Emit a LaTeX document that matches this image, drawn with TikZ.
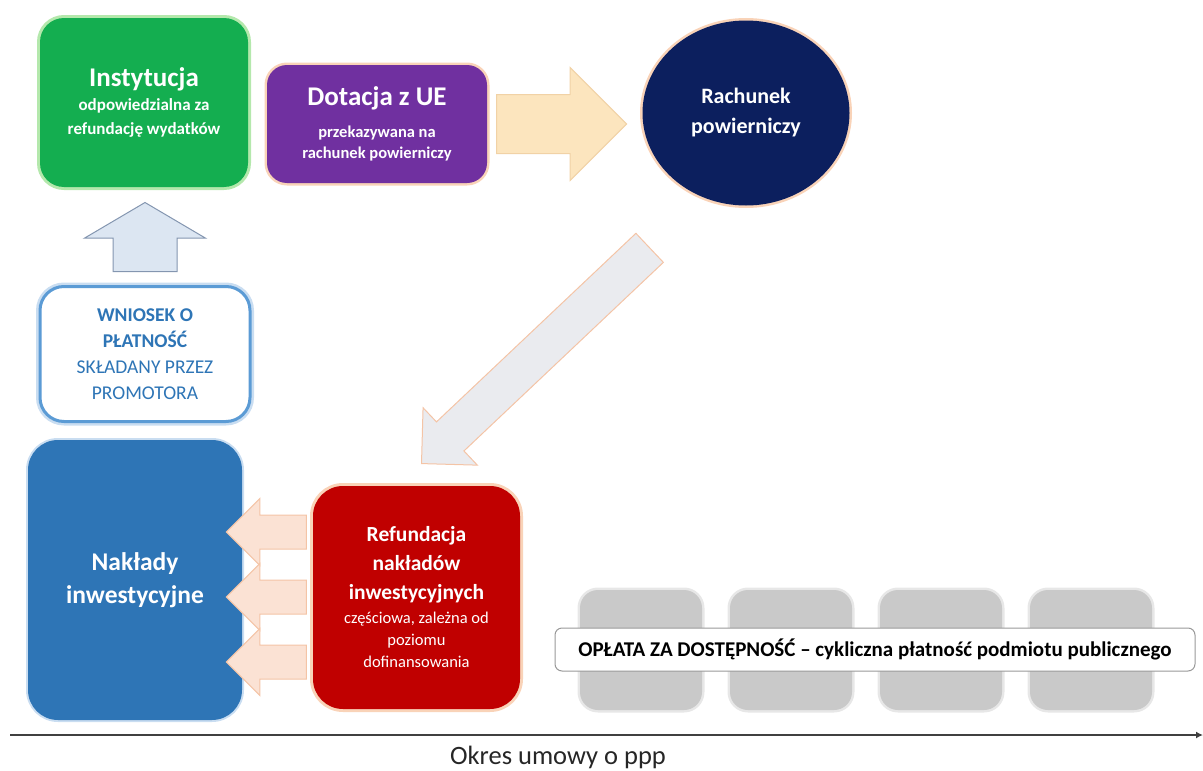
\documentclass[tikz,border=0pt]{standalone}
\usepackage{fontspec}
\setmainfont{Carlito}
\usetikzlibrary{positioning,arrows.meta,shapes.arrows,shapes.geometric}
\definecolor{instgreen}{HTML}{14AE50}
\definecolor{ueviolet}{HTML}{7030A0}
\definecolor{trustnavy}{HTML}{0C1F5E}
\definecolor{capexblue}{HTML}{2E75B6}
\definecolor{refundred}{HTML}{C00000}
\definecolor{glowgreen}{HTML}{B4E8AC}
\definecolor{glowpeach}{HTML}{F9D3B8}
\definecolor{glowblue}{HTML}{C9DDF1}
\definecolor{requestline}{HTML}{5B9BD5}
\definecolor{requesttext}{HTML}{2E75B6}
\definecolor{creamfill}{HTML}{FCE5BE}
\definecolor{creamline}{HTML}{F1D2A6}
\definecolor{skyfill}{HTML}{DCE6F2}
\definecolor{skyline}{HTML}{8496B0}
\definecolor{peachfill}{HTML}{FBE2D4}
\definecolor{peachline}{HTML}{F4C4A6}
\definecolor{mistfill}{HTML}{EAEBEF}
\definecolor{slotgray}{HTML}{C9C9C9}
\definecolor{axisgray}{HTML}{404040}
\newcommand{\headline}[1]{{\fontsize{27}{30}\selectfont #1}}
\newcommand{\refnote}[1]{{\mdseries\fontsize{16.5}{22}\selectfont #1}}
\tikzset{
  flowbox/.style={align=center, text=white, inner sep=0pt, font=\bfseries},
  instbox/.style={flowbox, fill=instgreen, rounded corners=24pt, preaction={draw=glowgreen, line width=6pt},
    minimum width=208pt, minimum height=169pt},
  uebox/.style={flowbox, fill=ueviolet, rounded corners=20pt, preaction={draw=glowpeach, line width=5pt},
    minimum width=220pt, minimum height=118pt},
  trustnode/.style={flowbox, ellipse, fill=trustnavy, preaction={draw=glowpeach, line width=5pt},
    minimum width=207pt, minimum height=185pt},
  requestbox/.style={align=center, text=requesttext, inner sep=0pt, fill=white, rounded corners=24pt,
    draw=requestline, line width=3pt, preaction={draw=glowblue, line width=8pt},
    minimum width=210pt, minimum height=135pt},
  capexbox/.style={flowbox, fill=capexblue, rounded corners=30pt, preaction={draw=glowblue, line width=4pt},
    minimum width=214pt, minimum height=280pt},
  refundbox/.style={flowbox, fill=refundred, rounded corners=30pt, preaction={draw=glowpeach, line width=6pt},
    minimum width=207pt, minimum height=223pt},
  blockarrow/.style={single arrow, single arrow head indent=0pt, inner xsep=0pt, line width=1pt},
  slotbox/.style={fill=slotgray, rounded corners=18pt, preaction={draw=slotgray!45, line width=5pt},
    minimum width=122pt, minimum height=120pt},
  feelabel/.style={draw=black!40, fill=white, rounded corners=7pt, line width=1pt, inner sep=0pt,
    minimum width=640pt, minimum height=43pt, font=\bfseries\fontsize{21}{24}\selectfont},
  axisline/.style={draw=axisgray, line width=2pt, -{Latex[length=7pt,width=7pt]}}
}

\begin{document}
\begin{tikzpicture}[x=1pt, y=-1pt]
  \useasboundingbox (0,0) rectangle (1203,771);

  % top row
  \node[instbox, font=\bfseries\fontsize{17}{24}\selectfont] (inst) at (144,102.5)
    {\headline{Instytucja}\\odpowiedzialna za\\refundację wydatków};
  \node[uebox, font=\bfseries\fontsize{16.5}{21}\selectfont] (ue) at (377,124)
    {\headline{Dotacja z UE}\\[11pt]przekazywana na\\rachunek powierniczy};
  \node[trustnode, font=\bfseries\fontsize{22}{30}\selectfont] (trust) at (746,113)
    {Rachunek\\powierniczy};
  \node[blockarrow, fill=creamfill, draw=creamline, minimum height=130pt, inner ysep=29pt,
    single arrow head extend=27pt, anchor=tail] (ueflow) at ([xshift=9pt]ue.east) {};

  % request
  \node[requestbox, font=\fontsize{19.5}{26}\selectfont] (request) at (145,354)
    {\textbf{WNIOSEK O}\\\textbf{PŁATNOŚĆ}\\SKŁADANY PRZEZ\\PROMOTORA};
  \node[blockarrow, fill=skyfill, draw=skyline, minimum height=69pt, inner ysep=31.5pt,
    single arrow head extend=28.5pt, single arrow tip angle=119, rotate=90, anchor=tail]
    (reqflow) at ([yshift=13pt]request.north) {};

  % bottom row
  \node[capexbox, font=\bfseries\fontsize{25.5}{33}\selectfont] (capex) at (135,580)
    {Nakłady\\inwestycyjne};
  \node[refundbox, font=\bfseries\fontsize{21.5}{29}\selectfont] (refund) at (416.5,597.5)
    {Refundacja\\nakładów\\inwestycyjnych\\[-5pt]\refnote{częściowa, zależna od}\\[-7pt]
     \refnote{poziomu}\\[-7pt]\refnote{dofinansowania}};
  \node[blockarrow, fill=mistfill, draw=peachline, minimum height=314pt, inner ysep=19.5pt,
    single arrow head extend=19.5pt, rotate=223.4, anchor=tail] (trustflow) at (650,247.5) {};
  \foreach \dy [count=\k] in {65.5,0.5,-64.5}
    \node[blockarrow, fill=peachfill, draw=peachline, minimum height=80pt, inner ysep=16.5pt,
      single arrow head extend=16.5pt, rotate=180, anchor=tail]
      (back\k) at ([xshift=-6pt, yshift=\dy pt]refund.west) {};

  % availability payments
  \foreach \i in {0,...,3}
    \node[slotbox] (slot\i) at ({641+150*\i},650) {};
  \node[feelabel] (fee) at (875,649.5)
    {OPŁATA ZA DOSTĘPNOŚĆ – cykliczna płatność podmiotu publicznego};

  % time axis
  \coordinate (axisL) at (10,735);
  \coordinate (axisR) at (1203,735);
  \draw[axisline] (axisL) -- (axisR);
  \node[font=\fontsize{26.5}{30}\selectfont, text=black!85] (period) at (558,757) {Okres umowy o ppp};
\end{tikzpicture}
\end{document}
